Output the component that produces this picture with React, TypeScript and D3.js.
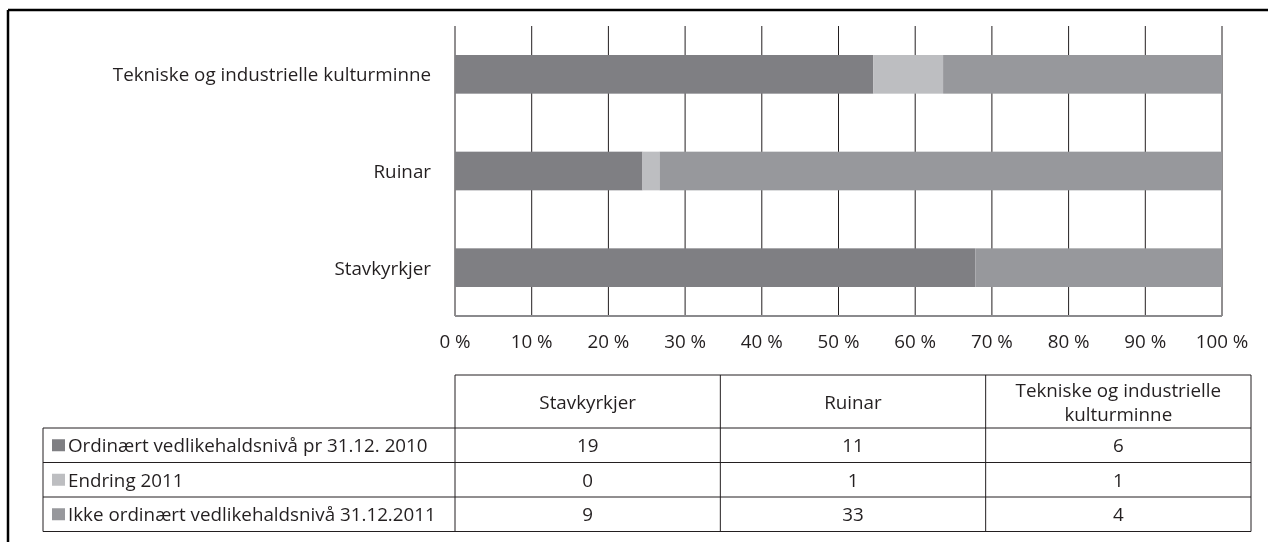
import React from 'react';
import * as d3 from 'd3';

// 100 % stacked bars with a data table below.

const categories = ['Stavkyrkjer', 'Ruinar', 'Tekniske og industrielle kulturminne'];
const seriesNames = [
  'Ordinært vedlikehaldsnivå pr 31.12. 2010',
  'Endring 2011',
  'Ikke ordinært vedlikehaldsnivå 31.12.2011',
];
const ordinaer2010 = [19, 11, 6];
const endring2011 = [0, 1, 1];
const ikkeOrdinaer2011 = [9, 33, 4];
const tickValues = [0, 0.1, 0.2, 0.3, 0.4, 0.5, 0.6, 0.7, 0.8, 0.9, 1];
const seriesColors = ['#7f7f83', '#bdbec1', '#97989c'];

const W = 1271;
const H = 542;
const FONT = '"Open Sans", sans-serif';
const FS = 18.8;
const TEXT = '#231f20';

const PLOT = { left: 455, right: 1222, top: 26, bottom: 316 };
const TABLE = { left: 43, colStart: 455, right: 1251, top: 375, headH: 53, rowH: 34.5 };

export default function App() {
  const values = [ordinaer2010, endring2011, ikkeOrdinaer2011];
  const rows = categories.map((c, i) => ({
    cat: c,
    s0: values[0][i],
    s1: values[1][i],
    s2: values[2][i],
  }));
  const stack = d3.stack<any>().keys(['s0', 's1', 's2']).offset(d3.stackOffsetExpand);
  const layers = stack(rows);

  const x = d3.scaleLinear().domain([0, 1]).range([PLOT.left, PLOT.right]);
  // last category drawn on top
  const y = d3
    .scaleBand()
    .domain(categories.slice().reverse())
    .range([PLOT.top, PLOT.bottom])
    .paddingInner(0.6)
    .paddingOuter(0.3);

  const colX = d3
    .scaleBand()
    .domain(categories)
    .range([TABLE.colStart, TABLE.right]);

  const rowY = (i: number) => TABLE.top + TABLE.headH + i * TABLE.rowH;
  const tableBottom = rowY(seriesNames.length);

  return (
    <svg
      width={W}
      height={H}
      style={{ position: 'fixed', left: 0, top: 0, display: 'block' }}
      fontFamily={FONT}
      fontSize={FS}
    >
      {/* outer frame: only its left and top edges fall inside the view */}
      <line x1={8} x2={8} y1={10} y2={H + 5} stroke="#000" strokeWidth={2.5} />
      <line x1={8} x2={W - 3} y1={10} y2={10} stroke="#000" strokeWidth={2.5} />

      {/* gridlines */}
      {tickValues.map(t => (
        <line
          key={'g' + t}
          x1={x(t)}
          x2={x(t)}
          y1={PLOT.top}
          y2={PLOT.bottom}
          stroke="#231f20"
          strokeWidth={1}
        />
      ))}

      {/* bars */}
      {layers.map((layer, li) =>
        layer.map((d, i) => (
          <rect
            key={li + '-' + i}
            x={x(d[0])}
            width={Math.max(0, x(d[1]) - x(d[0]))}
            y={y(rows[i].cat)}
            height={y.bandwidth()}
            fill={seriesColors[li]}
          />
        ))
      )}

      {/* bottom axis line */}
      <line x1={PLOT.left} x2={PLOT.right} y1={PLOT.bottom} y2={PLOT.bottom} stroke="#8a8a8d" strokeWidth={2} />

      {/* tick labels */}
      {tickValues.map(t => (
        <text
          key={'t' + t}
          x={x(t)}
          y={341}
          textAnchor="middle"
          dominantBaseline="central"
          fill={TEXT}
        >
          {`${Math.round(t * 100)} %`}
        </text>
      ))}

      {/* category labels */}
      {categories.map(c => (
        <text
          key={'c' + c}
          x={PLOT.left - 24}
          y={(y(c) as number) + y.bandwidth() / 2}
          textAnchor="end"
          dominantBaseline="central"
          fill={TEXT}
        >
          {c}
        </text>
      ))}

      {/* data table */}
      <g stroke="#231f20" strokeWidth={1} fill="none">
        <line x1={TABLE.colStart} x2={TABLE.right} y1={TABLE.top} y2={TABLE.top} />
        {seriesNames.map((_, i) => (
          <line key={'h' + i} x1={TABLE.left} x2={TABLE.right} y1={rowY(i)} y2={rowY(i)} />
        ))}
        <line x1={TABLE.left} x2={TABLE.right} y1={tableBottom} y2={tableBottom} />
        <line x1={TABLE.left} x2={TABLE.left} y1={rowY(0)} y2={tableBottom} />
        {categories.map(c => (
          <line
            key={'v' + c}
            x1={colX(c)}
            x2={colX(c)}
            y1={TABLE.top}
            y2={tableBottom}
          />
        ))}
        <line x1={TABLE.right} x2={TABLE.right} y1={TABLE.top} y2={tableBottom} />
      </g>

      {/* column headers */}
      {categories.map(c => {
        const cx = (colX(c) as number) + colX.bandwidth() / 2;
        const cy = TABLE.top + TABLE.headH / 2;
        const lines = c === 'Tekniske og industrielle kulturminne'
          ? ['Tekniske og industrielle', 'kulturminne']
          : [c];
        return (
          <text key={'ch' + c} x={cx} y={cy} textAnchor="middle" fill={TEXT} dominantBaseline="central">
            {lines.map((l, k) => (
              <tspan key={k} x={cx} dy={k === 0 ? -(lines.length - 1) * 12 : 24.5}>
                {l}
              </tspan>
            ))}
          </text>
        );
      })}

      {/* row headers with legend squares */}
      {seriesNames.map((s, i) => (
        <g key={'r' + s}>
          <rect x={TABLE.left + 9} y={rowY(i) + TABLE.rowH / 2 - 6} width={13} height={12} fill={seriesColors[i]} />
          <text
            x={TABLE.left + 25}
            y={rowY(i) + TABLE.rowH / 2}
            dominantBaseline="central"
            fill={TEXT}
          >
            {s}
          </text>
        </g>
      ))}

      {/* cell values */}
      {values.map((vals, i) =>
        vals.map((v, j) => (
          <text
            key={'v' + i + '-' + j}
            x={(colX(categories[j]) as number) + colX.bandwidth() / 2}
            y={rowY(i) + TABLE.rowH / 2}
            textAnchor="middle"
            dominantBaseline="central"
            fill={TEXT}
          >
            {v}
          </text>
        ))
      )}
    </svg>
  );
}
